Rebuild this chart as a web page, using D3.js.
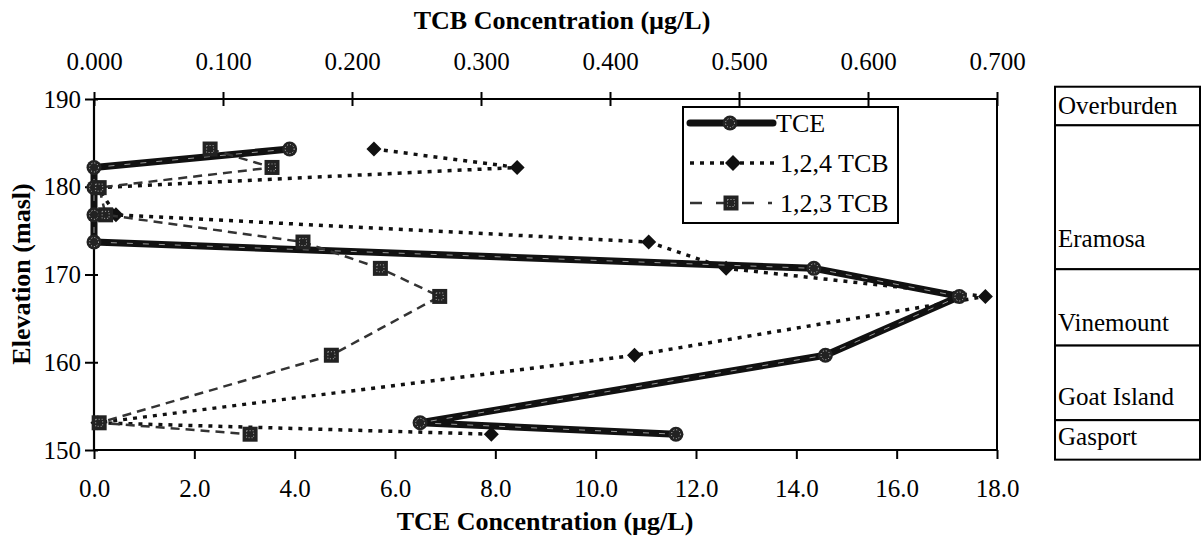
<!DOCTYPE html>
<html>
<head>
<meta charset="utf-8">
<script src="https://cdn.jsdelivr.net/npm/d3@7"></script>
<style>
  html, body { margin: 0; padding: 0; background: #fff; }
  svg { display: block; }
  svg text { font-family: "Liberation Serif", "DejaVu Serif", serif !important; fill: #000; }
</style>
</head>
<body>
<svg id="chart" width="1202" height="540"></svg>
<script>
// ---- data ----
const elevations = [184.3, 182.2, 179.9, 176.8, 173.7, 170.7, 167.5, 160.8, 153.1, 151.8];
const tce        = [3.9, 0.0, 0.0, 0.0, 0.0, 14.35, 17.25, 14.58, 6.5, 11.6];      // µg/L (bottom axis)
const tcb124     = [0.217, 0.328, 0.003, 0.017, 0.430, 0.490, 0.691, 0.419, 0.003, 0.308]; // µg/L (top axis)
const tcb123     = [0.090, 0.138, 0.004, 0.009, 0.162, 0.222, 0.268, 0.184, 0.004, 0.121]; // µg/L (top axis)
const seriesNames = ["TCE", "1,2,4 TCB", "1,2,3 TCB"];
const tceTicks = [0, 2, 4, 6, 8, 10, 12, 14, 16, 18];
const tcbTicks = [0, 0.1, 0.2, 0.3, 0.4, 0.5, 0.6, 0.7];
const elevTicks = [150, 160, 170, 180, 190];
const layerNames = ["Overburden", "Eramosa", "Vinemount", "Goat Island", "Gasport"];
const layerBounds = [191.4, 187.0, 170.6, 161.9, 153.4, 148.9]; // masl, top to bottom

// ---- layout ----
const FONT = '"Liberation Serif", "DejaVu Serif", serif';
const svg = d3.select("#chart");
const L = 94, R = 997, T = 99, B = 450;
const xE = d3.scaleLinear().domain([0, 18]).range([L, R]);
const xB = d3.scaleLinear().domain([0, 0.7]).range([L, R]);
const y = d3.scaleLinear().domain([150, 190]).range([B, T]);

svg.append("line").attr("x1", R).attr("x2", R).attr("y1", T).attr("y2", B)
  .attr("stroke", "#000").attr("stroke-width", 2);

const gB = svg.append("g").attr("transform", `translate(0,${B})`)
  .call(d3.axisBottom(xE).tickValues(tceTicks).tickFormat(d3.format(".1f")).tickSize(9).tickPadding(20));
const gT = svg.append("g").attr("transform", `translate(0,${T})`)
  .call(d3.axisTop(xB).tickValues(tcbTicks).tickFormat(d3.format(".3f")).tickSize(7).tickPadding(22));
gT.selectAll(".tick line").attr("y2", 7).attr("y1", -7);
const gL = svg.append("g").attr("transform", `translate(${L},0)`)
  .call(d3.axisLeft(y).tickValues(elevTicks).tickFormat(d3.format("d")).tickSize(9).tickPadding(4));
gL.selectAll(".tick line").attr("x1", -9).attr("x2", 4);

[gB, gT, gL].forEach(g => {
  g.attr("font-family", FONT);
  g.select(".domain").attr("stroke", "#000").attr("stroke-width", 2.2);
  g.selectAll(".tick line").attr("stroke", "#000").attr("stroke-width", 2);
  g.selectAll(".tick text").attr("font-size", 25).attr("fill", "#000");
});
gB.selectAll(".domain").attr("d", `M${L},0H${R}`);
gT.selectAll(".domain").attr("d", `M${L},0H${R}`);
gL.selectAll(".domain").attr("d", `M0,${B}V${T}`);

svg.append("text").attr("x", 562).attr("y", 29).attr("text-anchor", "middle")
  .attr("font-size", 26).attr("font-weight", "bold").text("TCB Concentration (µg/L)");
svg.append("text").attr("x", 545).attr("y", 530).attr("text-anchor", "middle")
  .attr("font-size", 26).attr("font-weight", "bold").text("TCE Concentration (µg/L)");
svg.append("text").attr("transform", "translate(30,274) rotate(-90)").attr("text-anchor", "middle")
  .attr("font-size", 26).attr("font-weight", "bold").text("Elevation (masl)");

// ---- series ----
const ptsE = elevations.map((e, i) => ({ x: xE(tce[i]), y: y(e) }));
const pts124 = elevations.map((e, i) => ({ x: xB(tcb124[i]), y: y(e) }));
const pts123 = elevations.map((e, i) => ({ x: xB(tcb123[i]), y: y(e) }));
const line = d3.line().x(d => d.x).y(d => d.y);

function diamond(g, x, yy, s) {
  g.append("path").attr("d", `M${x},${yy - s}L${x + s},${yy}L${x},${yy + s}L${x - s},${yy}Z`).attr("fill", "#111");
}
function square(g, x, yy, s) {
  g.append("rect").attr("x", x - s).attr("y", yy - s).attr("width", 2 * s).attr("height", 2 * s).attr("fill", "#222");
  g.append("rect").attr("x", x - s + 4).attr("y", yy - s + 4).attr("width", 2 * s - 8).attr("height", 2 * s - 8)
    .attr("fill", "none").attr("stroke", "#aaa").attr("stroke-width", 1).attr("stroke-dasharray", "1,2");
}
function circ(g, x, yy, r) {
  g.append("circle").attr("cx", x).attr("cy", yy).attr("r", r).attr("fill", "#222");
  g.append("circle").attr("cx", x).attr("cy", yy).attr("r", r - 3).attr("fill", "none")
    .attr("stroke", "#ccc").attr("stroke-width", 1).attr("stroke-dasharray", "1,2");
}

const g124 = svg.append("g");
g124.append("path").datum(pts124).attr("d", line).attr("fill", "none")
  .attr("stroke", "#111").attr("stroke-width", 3.5).attr("stroke-dasharray", "4,6");
pts124.forEach(p => diamond(g124, p.x, p.y, 7.5));

const gE = svg.append("g");
gE.append("path").datum(ptsE).attr("d", line).attr("fill", "none")
  .attr("stroke", "#111").attr("stroke-width", 7).attr("stroke-linejoin", "round");
gE.append("path").datum(ptsE).attr("d", line).attr("fill", "none")
  .attr("stroke", "#999").attr("stroke-width", 1).attr("stroke-dasharray", "6,10");
ptsE.forEach(p => circ(gE, p.x, p.y, 7.5));

const g123 = svg.append("g");
g123.append("path").datum(pts123).attr("d", line).attr("fill", "none")
  .attr("stroke", "#333").attr("stroke-width", 2.5).attr("stroke-dasharray", "9,6");
pts123.forEach(p => square(g123, p.x, p.y, 7.5));

// ---- legend ----
const lg = svg.append("g");
lg.append("rect").attr("x", 683).attr("y", 107).attr("width", 215).attr("height", 116)
  .attr("fill", "#fff").attr("stroke", "#000").attr("stroke-width", 2);
const rowsY = [123, 163, 203];
lg.append("line").attr("x1", 690).attr("x2", 773).attr("y1", rowsY[0]).attr("y2", rowsY[0])
  .attr("stroke", "#111").attr("stroke-width", 7).attr("stroke-linecap", "round");
circ(lg, 730, rowsY[0], 7.5);
lg.append("line").attr("x1", 690).attr("x2", 776).attr("y1", rowsY[1]).attr("y2", rowsY[1])
  .attr("stroke", "#111").attr("stroke-width", 3.5).attr("stroke-dasharray", "4,6");
diamond(lg, 733, rowsY[1], 8);
lg.append("line").attr("x1", 690).attr("x2", 772).attr("y1", rowsY[2]).attr("y2", rowsY[2])
  .attr("stroke", "#333").attr("stroke-width", 2.5).attr("stroke-dasharray", "12,14");
square(lg, 731, rowsY[2], 7.5);
const legendX = [776, 780, 780];
seriesNames.forEach((n, i) => {
  lg.append("text").attr("x", legendX[i]).attr("y", rowsY[i] + 9).attr("font-size", 26).text(n);
});

// ---- stratigraphic column ----
const sg = svg.append("g");
const colL = 1055, colR = 1200;
layerNames.forEach((n, i) => {
  const y0 = y(layerBounds[i]), y1 = y(layerBounds[i + 1]);
  sg.append("rect").attr("x", colL).attr("y", y0).attr("width", colR - colL).attr("height", y1 - y0)
    .attr("fill", "#fff").attr("stroke", "#000").attr("stroke-width", 2);
  const lift = (n === "Eramosa") ? 22 : (n === "Overburden" ? 11 : 15);
  sg.append("text").attr("x", colL + 3).attr("y", y1 - lift).attr("font-size", 25).text(n);
});
</script>
</body>
</html>
